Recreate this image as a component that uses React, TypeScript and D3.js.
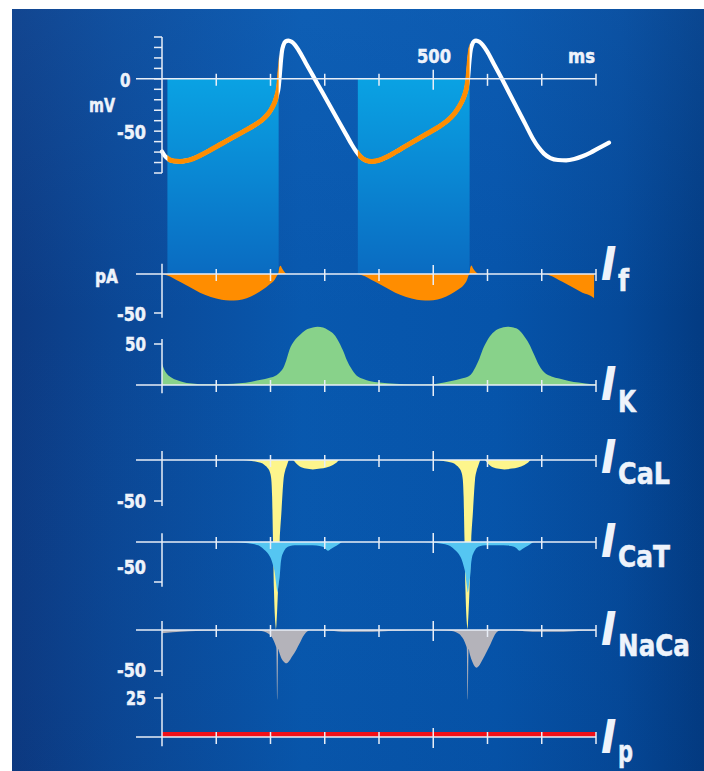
import React from 'react';
import * as d3 from 'd3';

// ---------- data ----------
const timeTicks = [0, 100, 200, 300, 400, 500, 600, 700, 800];
const labelledTime = 500;
const mvTicks = [-90, -80, -70, -60, -50, -40, -30, -20, -10, 0, 10, 20, 30, 40];

// membrane potential (ms, mV)
const apTrace: [number, number][] = [
  [0, -69.5], [5, -73.5], [12, -76.8], [22, -78.6], [33, -79], [45, -78.2], [58, -76.2],
  [72, -72.8], [90, -67.8], [110, -62], [130, -56.2], [150, -50.4], [170, -44.5], [183, -40],
  [194, -34.5], [202, -28.5], [208, -22], [212, -15.5], [215, -8], [217, 3], [219, 16],
  [221, 26], [224, 32.5], [228, 35.8], [233, 36.6], [239, 35.4], [245, 32.5], [252, 27.2],
  [265, 15.2], [280, 1.4], [295, -12.4], [310, -26.2], [325, -40], [340, -53.8], [350, -63],
  [358, -69.5], [366, -74.5], [376, -78], [387, -79], [400, -77.8], [415, -74.5], [432, -69.5],
  [450, -64], [470, -58], [490, -52], [510, -46], [525, -40.5], [537, -34.5], [546, -28],
  [553, -21.5], [558, -15], [562, -7], [564.5, 3], [566.5, 16], [568.5, 26], [571.5, 32.5],
  [575, 35.8], [579, 36.6], [585, 35.4], [591, 32.5], [599, 26.5], [612, 14], [626, 0.5],
  [640, -13.5], [655, -28.5], [670, -43.5], [684, -57.5], [694, -65.5], [704, -71.5],
  [716, -75.8], [730, -77.6], [745, -77.9], [760, -76.6], [775, -74], [790, -70.5], [805, -66.2],
  [824, -61],
];

// diastolic depolarisation windows (ms)
const pacemakerWindows: [number, number][] = [[10, 215], [361, 567]];

// currents (ms, pA)
const iF: [number, number][] = [
  [0, 0], [10, -2], [20, -5], [33, -10], [50, -16.5], [70, -24], [90, -29.5], [110, -33],
  [125, -34], [140, -33.5], [156, -31], [172, -26], [186, -20], [198, -13.5], [208, -7],
  [212, -2], [214, 0], [216.5, 9], [218.5, 10.5], [221.5, 7], [225.5, 3], [230, 0],
  [300, 0], [360, 0], [370, -2], [380, -5], [393, -10], [410, -16.5], [430, -24], [450, -29.5],
  [470, -33], [485, -34], [500, -33.5], [516, -31], [532, -26], [546, -20], [557, -13.5],
  [562.5, -7], [565, -2], [566.5, 0], [568.5, 9], [570.5, 11], [573.5, 7], [578, 3], [584, 0],
  [650, 0], [705, 0], [715, -2], [725, -5], [738, -10], [755, -16.5], [775, -24], [795, -30],
  [796.4, -31], [796.6, 0],
];

const iK: [number, number][] = [
  [0, 26], [4, 19], [8.5, 14], [15, 10], [27, 6], [40, 3.5], [51, 2], [70, 1], [94, 0.8],
  [120, 1.2], [143, 2], [165, 4], [180, 6], [200, 9], [211, 12], [218, 16], [223, 20], [229, 30],
  [235, 43], [244, 54], [254, 61], [265, 67], [278, 70], [287, 71], [297, 70], [306, 67],
  [315, 63], [324, 55], [333, 43], [341, 30], [349, 20], [358, 12], [370, 7.5], [382, 5],
  [401, 3], [430, 1.5], [462, 0.6], [499, 1], [520, 3], [542, 6], [556, 8.5], [566, 11],
  [572, 15], [578, 22], [585, 32], [591, 43], [600, 55], [609, 63], [622, 69], [637, 71],
  [648, 70], [658, 67], [667, 60], [676, 51], [686, 37], [695, 24], [701, 18], [707, 14],
  [718, 10.5], [732, 8], [750, 5], [768, 3], [793, 1], [800, 0.8],
];

const iCaL: [number, number][] = [
  [0, 0], [150, 0], [163, -0.8], [174, -2], [182, -3.5], [189, -6], [195, -10], [198.5, -14],
  [201.5, -24], [203, -45], [204.6, -98], [206.4, -159], [209, -200], [210, -206], [211, -200],
  [213.8, -159], [217, -98], [220, -65], [224, -24], [227, -13], [229.5, -8], [232, -3], [234, 0],
  [241, 0], [247, -4], [254, -8], [265, -10.5], [278, -11.5], [292, -10.5], [303, -9], [315, -6],
  [322, -3], [327, 0], [420, 0], [503, 0], [516, -0.8], [527, -2], [535, -3.5], [542, -6],
  [548, -10], [551.5, -14], [554.5, -24], [556, -45], [557.6, -98], [559.4, -159], [562, -200],
  [563, -206], [564, -200], [566.8, -159], [570, -98], [573, -65], [577, -24], [580, -13],
  [582.5, -8], [585, -3], [587, 0], [595, 0], [600, -4], [607, -8], [618, -10.5], [631, -11.5],
  [645, -10.5], [656, -9], [668, -6], [675, -3], [680, 0], [800, 0],
];

const iCaT: [number, number][] = [
  [0, 0], [132, 0], [150, -1], [168, -2.5], [180, -5], [189, -10], [196, -15], [201.7, -22.5],
  [205, -30], [208, -39], [210, -50], [211.5, -58], [212.7, -63], [214, -58], [215.5, -50],
  [217, -43], [218.8, -27], [220.5, -19], [223, -14], [227, -9], [232, -6], [240, -4.5],
  [250, -4], [270, -4], [285, -4.5], [296.5, -6], [301, -8], [306, -11], [312, -8.5], [318, -6],
  [325, -3], [333, 0], [410, 0], [484, 0], [501, -1], [519, -2.5], [531, -5], [540, -10],
  [547, -15], [552.7, -22.5], [556, -30], [559, -39], [561, -50], [562.5, -58], [563.7, -63],
  [565, -58], [566.5, -50], [568, -43], [569.8, -27], [571.5, -19], [574, -14], [578, -9],
  [583, -6], [591, -4.5], [601, -4], [621, -4], [637, -4.5], [649, -6], [654, -8], [659, -11],
  [665, -8.5], [671, -6], [678, -3], [686, 0], [800, 0],
];

const iNaCa: [number, number][] = [
  [0, -4], [10, -3.3], [20, -2.6], [33, -2], [50, -1.4], [76, -1], [100, -0.5], [130, -0.3],
  [174, -0.5], [186, -1.5], [192.5, -3], [197, -5], [201.7, -8], [206, -13], [209.5, -19],
  [210.8, -22], [212.5, -85], [214.2, -23], [215.5, -26], [220, -34.5], [225, -39], [229, -40.6],
  [233, -39], [240, -32], [247.6, -24], [254, -16], [260, -8], [265, -3.5], [269, -1.2],
  [272, -0.3], [285, -0.2], [300, -0.5], [309, -1], [325, -1.7], [340, -2], [360, -2],
  [388, -2], [410, -1.5], [425, -1], [450, -0.5], [480, -0.3], [525, -0.5], [537, -1.5],
  [543, -3], [548, -5], [552, -8], [557, -13], [560.5, -19], [561.8, -22], [563.5, -85],
  [565.2, -23], [566.5, -27], [571, -37], [576, -44], [580, -46], [584, -44], [591, -36],
  [598, -27], [605, -18], [611, -9], [616, -3.5], [620, -1.2], [623, -0.3], [640, -0.2],
  [655, -0.5], [660, -1], [676, -1.7], [690, -2], [710, -2], [740, -2], [760, -1.5],
  [776, -1], [800, -0.6],
];

const iP: [number, number][] = [[0, 3.2], [800, 3.2]];

// panel definitions
const panelNames = ['f', 'K', 'CaL', 'CaT', 'NaCa', 'p'];
const panelSeries = [iF, iK, iCaL, iCaT, iNaCa, iP];
const panelTickValues = [-50, 50, -50, -50, -50, 25];
const panelTickLabels = ['-50', '50', '-50', '-50', '-50', '25'];
const panelExtents: [number, number][] = [[-56, 13], [-10, 56], [-56, 11], [-56, 11], [-56, 11], [-6, 28]];

// ---------- layout / style (pixels) ----------
const W = 704;
const H = 771;
const panelLayout = [
  { zeroY: 274, tickY: 313, labelBase: 321, iBase: 280, subBase: 291, subW: 11, fill: '#ff8d00' },
  { zeroY: 385, tickY: 344, labelBase: 351, iBase: 400, subBase: 412, subW: 18, fill: '#88d28a' },
  { zeroY: 460, tickY: 501, labelBase: 508, iBase: 473, subBase: 484, subW: 52, fill: '#fdf58c' },
  { zeroY: 542, tickY: 582, labelBase: 574, iBase: 557, subBase: 567, subW: 52, fill: '#55c6f2' },
  { zeroY: 630, tickY: 671, labelBase: 677, iBase: 645, subBase: 656, subW: 72, fill: '#b4b3ba' },
  { zeroY: 737, tickY: 698, labelBase: 705, iBase: 753, subBase: 762, subW: 15, fill: '#f01018' },
];
const tickLabelX = [117, 125, 117, 117, 117, 126];
const tickLabelW = [29, 21, 29, 29, 29, 20];

const FONT = "'Liberation Sans Narrow', 'Arial Narrow', 'DejaVu Sans Condensed', 'Liberation Sans', sans-serif";
const TXT = '#eef3fb';
const AXIS = '#e8eef7';

const xs = d3.scaleLinear().domain([0, 800]).range([162, 596]);
const yAP = d3.scaleLinear().domain([-90, 40]).range([173, 37]);

function T({ x, y, w, s = 20, children }: { x: number; y: number; w?: number; s?: number; children: string }) {
  return (
    <text
      x={x}
      y={y}
      fontFamily={FONT}
      fontWeight="bold"
      fontSize={s}
      fill={TXT}
      stroke={TXT}
      strokeWidth={0.5}
      textLength={w}
      lengthAdjust={w ? 'spacingAndGlyphs' : undefined}
    >
      {children}
    </text>
  );
}

function XAxis({ y }: { y: number }) {
  return (
    <g stroke={AXIS} strokeWidth={1.5}>
      <line x1={136} x2={xs(800)} y1={y} y2={y} />
      {timeTicks.filter((t) => t > 0).map((t) => (
        <line
          key={t}
          x1={xs(t)}
          x2={xs(t)}
          y1={y - (t === labelledTime ? 9 : 5)}
          y2={y + (t === labelledTime ? 11 : 7)}
        />
      ))}
    </g>
  );
}

export default function App() {
  const apLine = d3
    .line<[number, number]>()
    .x((d) => xs(d[0]))
    .y((d) => yAP(d[1]))
    .curve(d3.curveMonotoneX);

  return (
    <svg
      width={W}
      height={H}
      viewBox={`0 0 ${W} ${H}`}
      style={{ position: 'absolute', left: 0, top: 0, display: 'block' }}
    >
      <defs>
        <linearGradient id="bg" x1="0" y1="0" x2="1" y2="0">
          <stop offset="0" stopColor="#0d3a82" />
          <stop offset="0.15" stopColor="#0b4795" />
          <stop offset="0.42" stopColor="#0858ae" />
          <stop offset="0.7" stopColor="#0654aa" />
          <stop offset="0.88" stopColor="#054999" />
          <stop offset="1" stopColor="#033b82" />
        </linearGradient>
        <linearGradient id="bgv" x1="0" y1="0" x2="0" y2="1">
          <stop offset="0" stopColor="#2a7ad0" stopOpacity="0.18" />
          <stop offset="0.4" stopColor="#2a7ad0" stopOpacity="0" />
          <stop offset="1" stopColor="#001a50" stopOpacity="0.05" />
        </linearGradient>
        <linearGradient id="win" x1="0" y1="0" x2="0" y2="1">
          <stop offset="0" stopColor="#0aa2e3" />
          <stop offset="0.5" stopColor="#0a87d3" />
          <stop offset="1" stopColor="#0a6bc1" />
        </linearGradient>
        <clipPath id="winClip">
          {pacemakerWindows.map(([a, b], i) => (
            <rect key={i} x={xs(a)} y={0} width={xs(b) - xs(a)} height={H} />
          ))}
        </clipPath>
      </defs>

      <rect x={12} y={9} width={W - 12} height={H - 9} fill="url(#bg)" />
      <rect x={12} y={9} width={W - 12} height={H - 9} fill="url(#bgv)" />

      {pacemakerWindows.map(([a, b], i) => (
        <rect
          key={i}
          x={xs(a)}
          y={yAP(0)}
          width={xs(b) - xs(a)}
          height={panelLayout[0].zeroY - yAP(0)}
          fill="url(#win)"
        />
      ))}

      {/* current traces */}
      {panelSeries.map((data, i) => {
        const L = panelLayout[i];
        const y = d3.scaleLinear().domain([0, panelTickValues[i]]).range([L.zeroY, L.tickY]);
        const area = d3
          .area<[number, number]>()
          .x((d) => xs(d[0]))
          .y0(y(0))
          .y1((d) => y(d[1]))
          .curve(d3.curveMonotoneX);
        return <path key={panelNames[i]} d={area(data) || ''} fill={L.fill} />;
      })}

      {/* membrane potential */}
      <path d={apLine(apTrace) || ''} fill="none" stroke="#ffffff" strokeWidth={4.2} strokeLinecap="round" />
      <path
        d={apLine(apTrace) || ''}
        fill="none"
        stroke="#ff8d00"
        strokeWidth={5}
        clipPath="url(#winClip)"
      />

      {/* AP axes */}
      <XAxis y={yAP(0)} />
      <g stroke={AXIS} strokeWidth={1.5}>
        <line x1={162} x2={162} y1={yAP(40)} y2={yAP(-90)} />
        {mvTicks.map((v) => (
          <line key={v} x1={154} x2={162} y1={yAP(v)} y2={yAP(v)} />
        ))}
      </g>
      <T x={120} y={86.5} w={10.5}>0</T>
      <T x={117} y={139} w={29}>-50</T>
      <T x={89} y={112} w={26}>mV</T>
      <T x={417} y={63} w={34}>{String(labelledTime)}</T>
      <T x={568} y={63} w={27}>ms</T>
      <T x={95} y={283} w={23}>pA</T>

      {/* current axes & labels */}
      {panelNames.map((name, i) => {
        const L = panelLayout[i];
        const y = d3.scaleLinear().domain([0, panelTickValues[i]]).range([L.zeroY, L.tickY]);
        const [e0, e1] = panelExtents[i];
        return (
          <g key={name}>
            <XAxis y={L.zeroY} />
            <g stroke={AXIS} strokeWidth={1.5}>
              <line x1={162} x2={162} y1={y(e0)} y2={y(e1)} />
              <line x1={154} x2={162} y1={y(panelTickValues[i])} y2={y(panelTickValues[i])} />
            </g>
            <T x={tickLabelX[i]} y={L.labelBase} w={tickLabelW[i]}>{panelTickLabels[i]}</T>
            <text
              x={601}
              y={L.iBase}
              fontFamily={FONT}
              fontWeight="bold"
              fontStyle="italic"
              fontSize={46}
              fill={TXT}
            >
              I
            </text>
            <T x={618} y={L.subBase} w={L.subW} s={30}>{name}</T>
          </g>
        );
      })}
    </svg>
  );
}
